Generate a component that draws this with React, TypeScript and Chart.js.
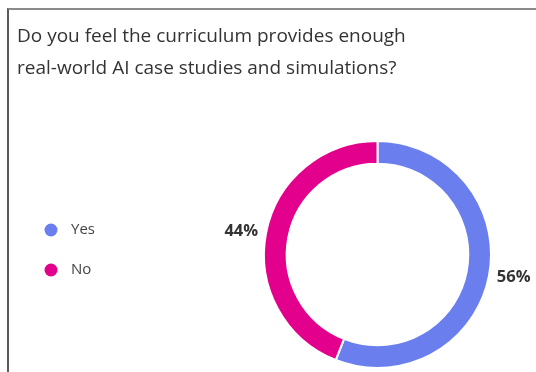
import React, { useEffect, useRef } from "react";
import { Chart, registerables } from "chart.js";

Chart.register(...registerables);

const titleLines = ["Do you feel the curriculum provides enough", "real-world AI case studies and simulations?"];
const categories = ["Yes", "No"];
const values = [56, 44];
const colors = ["#6A7EEE", "#E3008C"];

const FONT = "'Open Sans', 'Noto Sans', sans-serif";

const overlayPlugin = {
  id: "overlay",
  afterDraw(chart: any) {
    const ctx = chart.ctx;
    ctx.save();
    // title
    ctx.fillStyle = "#333333";
    ctx.font = `19px ${FONT}`;
    ctx.textBaseline = "middle";
    ctx.textAlign = "left";
    titleLines.forEach((t, i) => ctx.fillText(t, 17, 37 + i * 32));
    // legend
    ctx.font = `15px ${FONT}`;
    categories.forEach((c, i) => {
      const y = 230 + i * 40;
      ctx.beginPath();
      ctx.fillStyle = colors[i];
      ctx.arc(51, y, 6.5, 0, Math.PI * 2);
      ctx.fill();
      ctx.fillStyle = "#444444";
      ctx.fillText(c, 71, y);
    });
    // percentage labels
    const meta = chart.getDatasetMeta(0);
    const total = values.reduce((a, b) => a + b, 0);
    ctx.font = `bold 16.5px ${FONT}`;
    ctx.fillStyle = "#333333";
    meta.data.forEach((arc: any, i: number) => {
      const { x, y, startAngle, endAngle, outerRadius } = arc.getProps(
        ["x", "y", "startAngle", "endAngle", "outerRadius"],
        true
      );
      const mid = (startAngle + endAngle) / 2;
      const r = outerRadius + 8;
      const px = x + Math.cos(mid) * r;
      const py = y + Math.sin(mid) * r;
      ctx.textAlign = Math.cos(mid) >= 0 ? "left" : "right";
      ctx.fillText(`${Math.round((values[i] / total) * 100)}%`, px, py);
    });
    ctx.restore();
  },
};

export default function App() {
  const ref = useRef<HTMLCanvasElement>(null);
  useEffect(() => {
    if (!ref.current) return;
    const chart = new Chart(ref.current, {
      type: "doughnut",
      data: {
        labels: categories,
        datasets: [
          {
            data: values,
            backgroundColor: colors,
            borderColor: "#ffffff",
            borderWidth: 2,
            hoverOffset: 0,
          },
        ],
      },
      options: {
        responsive: false,
        animation: false,
        cutout: "80%",
        layout: { padding: { left: 263, right: 44, top: 140, bottom: 3 } },
        plugins: {
          legend: { display: false },
          title: { display: false },
          tooltip: { enabled: false },
        },
      },
      plugins: [overlayPlugin],
    });
    return () => chart.destroy();
  }, []);
  return (
    <div style={{ position: "absolute", left: 0, top: 0, width: 536, height: 372, background: "#fff", overflow: "hidden" }}>
      <div
        style={{
          position: "absolute",
          left: 7,
          top: 8,
          width: 600,
          height: 400,
          borderTop: "2px solid #8a8a8a",
          borderLeft: "2px solid #5a5a5a",
        }}
      />
      <canvas ref={ref} width={536} height={372} style={{ position: "absolute", left: 0, top: 0, width: 536, height: 372 }} />
    </div>
  );
}
